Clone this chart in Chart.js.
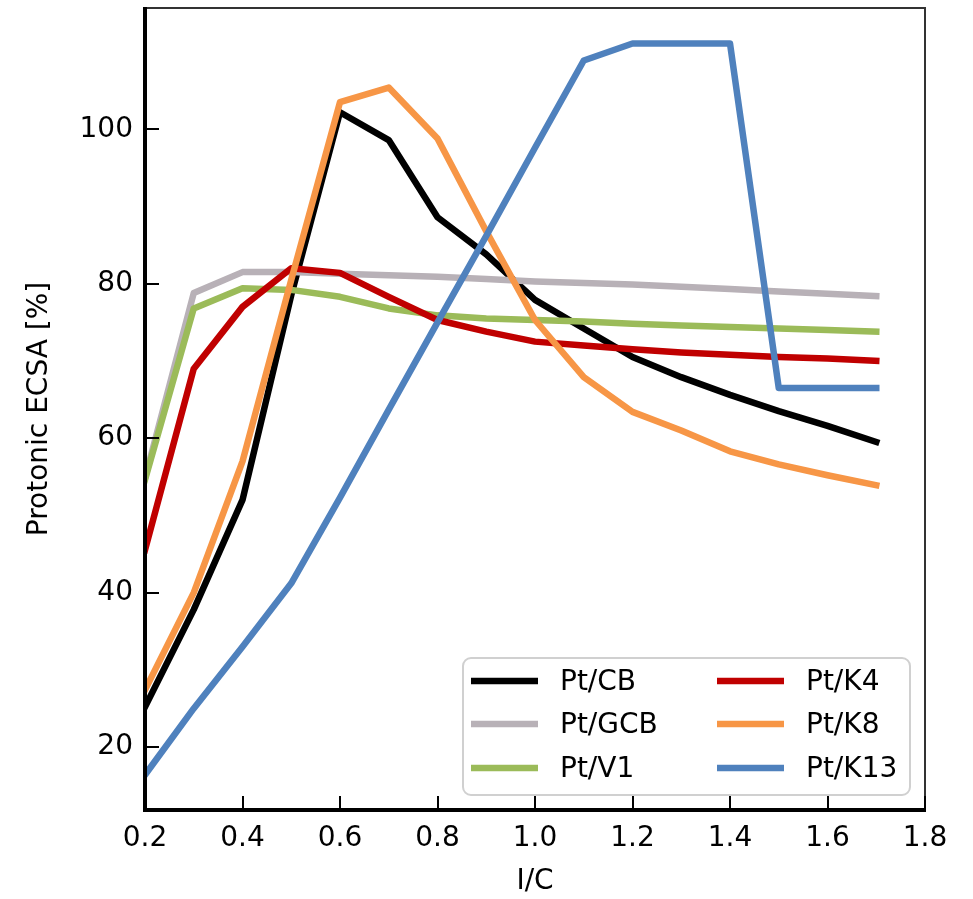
<!DOCTYPE html>
<html>
<head>
<meta charset="utf-8">
<script src="https://cdn.jsdelivr.net/npm/chart.js@4/dist/chart.umd.min.js"></script>
<style>
  html, body { margin: 0; padding: 0; background: #fff; }
  #wrap { width: 973px; height: 899px; position: relative; }
</style>
</head>
<body>
<div id="wrap"><canvas id="ecsaChart" width="973" height="899"></canvas></div>
<script>
// x values (I/C ratio)
var icRatio = [0.2, 0.3, 0.4, 0.5, 0.6, 0.7, 0.8, 0.9, 1.0, 1.1, 1.2, 1.3, 1.4, 1.5, 1.6, 1.7];

// protonic ECSA [%] per catalyst
var ptCB   = [25.2, 37.8, 52.0, 78.5, 102.2, 98.6, 88.6, 83.8, 77.9, 74.2, 70.5, 67.9, 65.6, 63.5, 61.6, 59.5];
var ptGCB  = [54.8, 78.8, 81.5, 81.5, 81.3, 81.1, 80.9, 80.6, 80.3, 80.1, 79.9, 79.6, 79.3, 79.0, 78.7, 78.4];
var ptV1   = [54.6, 76.8, 79.4, 79.2, 78.3, 76.8, 75.9, 75.5, 75.3, 75.1, 74.8, 74.6, 74.4, 74.2, 74.0, 73.8];
var ptK4   = [45.5, 69.0, 77.0, 82.0, 81.4, 78.3, 75.3, 73.8, 72.5, 72.0, 71.5, 71.1, 70.8, 70.5, 70.3, 70.0];
var ptK8   = [27.4, 40.0, 57.0, 80.5, 103.5, 105.4, 98.8, 86.8, 75.3, 67.9, 63.4, 61.0, 58.3, 56.6, 55.2, 53.9];
var ptK13  = [16.4, 25.0, 33.0, 41.2, 52.3, 63.7, 75.0, 86.2, 97.6, 108.9, 111.1, 111.1, 111.1, 66.5, 66.5, 66.5];

var seriesNames  = ['Pt/CB', 'Pt/GCB', 'Pt/V1', 'Pt/K4', 'Pt/K8', 'Pt/K13'];
var seriesValues = [ptCB, ptGCB, ptV1, ptK4, ptK8, ptK13];
var seriesColors = ['#000000', '#b8b1b7', '#9bbb59', '#c00000', '#f79646', '#4f81bd'];

var xTicks = [0.2, 0.4, 0.6, 0.8, 1.0, 1.2, 1.4, 1.6, 1.8];
var yTicks = [20, 40, 60, 80, 100];

var FONT = 'DejaVu Sans';
var FSIZE = 28;

function toPoints(vals) {
  return vals.map(function(v, i) { return { x: icRatio[i], y: v }; });
}

var datasets = seriesNames.map(function(name, i) {
  return {
    label: name,
    data: toPoints(seriesValues[i]),
    borderColor: seriesColors[i],
    backgroundColor: seriesColors[i],
    borderWidth: 6.5,
    pointRadius: 0,
    tension: 0,
    fill: false,
    borderCapStyle: 'square',
    borderJoinStyle: 'round',
    order: seriesNames.length - i
  };
});

// frame, inward ticks and legend box
var framePlugin = {
  id: 'frame',
  afterDraw: function(chart) {
    var ctx = chart.ctx, a = chart.chartArea;
    var xs = chart.scales.x, ys = chart.scales.y;
    ctx.save();
    // thin top/right spines
    ctx.strokeStyle = '#333';
    ctx.lineWidth = 2;
    ctx.beginPath();
    ctx.moveTo(a.left, a.top); ctx.lineTo(a.right, a.top); ctx.lineTo(a.right, a.bottom);
    ctx.stroke();
    // thick left/bottom spines
    ctx.strokeStyle = '#000';
    ctx.lineWidth = 4;
    ctx.beginPath();
    ctx.moveTo(a.left, a.top - 1); ctx.lineTo(a.left, a.bottom); ctx.lineTo(a.right + 1, a.bottom);
    ctx.stroke();
    // inward ticks
    ctx.lineWidth = 2;
    ctx.beginPath();
    xTicks.forEach(function(t) {
      var px = Math.round(xs.getPixelForValue(t));
      ctx.moveTo(px, a.bottom); ctx.lineTo(px, a.bottom - 14);
    });
    yTicks.forEach(function(t) {
      var py = Math.round(ys.getPixelForValue(t));
      ctx.moveTo(a.left, py); ctx.lineTo(a.left + 14, py);
    });
    ctx.stroke();

    // legend (2 columns x 3 rows)
    var bx = 463, by = 658, bw = 447, bh = 137, r = 8;
    ctx.fillStyle = 'rgba(255,255,255,0.85)';
    ctx.strokeStyle = '#d0d0d0';
    ctx.lineWidth = 2;
    ctx.beginPath();
    ctx.moveTo(bx + r, by);
    ctx.arcTo(bx + bw, by, bx + bw, by + bh, r);
    ctx.arcTo(bx + bw, by + bh, bx, by + bh, r);
    ctx.arcTo(bx, by + bh, bx, by, r);
    ctx.arcTo(bx, by, bx + bw, by, r);
    ctx.closePath();
    ctx.fill();
    ctx.stroke();
    ctx.font = FSIZE + 'px "' + FONT + '"';
    ctx.textBaseline = 'middle';
    ctx.textAlign = 'left';
    var colX = [471, 717];
    var rowY = [681, 724, 768];
    seriesNames.forEach(function(name, i) {
      var c = Math.floor(i / 3), rr = i % 3;
      var lx = colX[c], ly = rowY[rr];
      ctx.strokeStyle = seriesColors[i];
      ctx.lineWidth = 6.5;
      ctx.lineCap = 'butt';
      ctx.beginPath();
      ctx.moveTo(lx, ly); ctx.lineTo(lx + 67, ly);
      ctx.stroke();
      ctx.fillStyle = '#000';
      ctx.fillText(name, lx + 89, ly + 2);
    });
    ctx.restore();
  }
};

var ctx = document.getElementById('ecsaChart').getContext('2d');
new Chart(ctx, {
  type: 'line',
  data: { datasets: datasets },
  plugins: [framePlugin],
  options: {
    responsive: false,
    animation: false,
    layout: { padding: { top: 8, right: 48, left: 0, bottom: 0 } },
    plugins: { legend: { display: false }, tooltip: { enabled: false } },
    scales: {
      x: {
        type: 'linear',
        min: 0.2,
        max: 1.8,
        grid: { display: false, drawTicks: false },
        border: { display: false },
        afterBuildTicks: function(s) { s.ticks = xTicks.map(function(v) { return { value: v }; }); },
        afterFit: function(s) { s.height = 89; s.paddingLeft = 0; s.paddingRight = 0; },
        ticks: {
          color: '#000',
          padding: 12,
          maxRotation: 0,
          font: { family: FONT, size: FSIZE },
          callback: function(v) { return Number(v).toFixed(1); }
        },
        title: {
          display: true, text: 'I/C', color: '#000',
          font: { family: FONT, size: FSIZE },
          padding: { top: 0, bottom: 0 }
        }
      },
      y: {
        type: 'linear',
        min: 11.85,
        max: 115.7,
        grid: { display: false, drawTicks: false },
        border: { display: false },
        afterBuildTicks: function(s) { s.ticks = yTicks.map(function(v) { return { value: v }; }); },
        afterFit: function(s) { s.width = 145; s.paddingTop = 0; s.paddingBottom = 0; },
        ticks: {
          color: '#000',
          padding: 12,
          font: { family: FONT, size: FSIZE },
          callback: function(v) { return String(v); }
        },
        title: {
          display: true, text: 'Protonic ECSA [%]', color: '#000',
          font: { family: FONT, size: FSIZE },
          padding: { top: 23, bottom: 0 }
        }
      }
    }
  }
});
</script>
</body>
</html>
